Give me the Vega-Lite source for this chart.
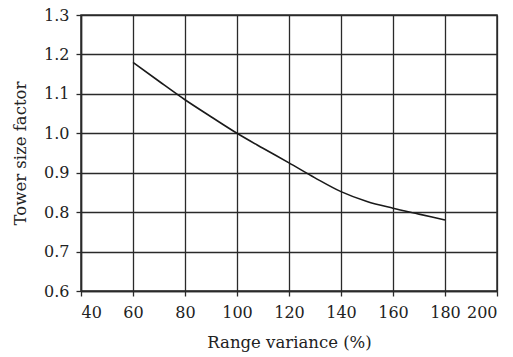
{
  "$schema": "https://vega.github.io/schema/vega-lite/v6.json",
  "width": 416,
  "height": 276,
  "autosize": "none",
  "padding": {"left": 81, "top": 15, "right": 16, "bottom": 66},
  "background": "white",
  "data": {"values": [
    {"x": 60, "y": 1.18},
    {"x": 70, "y": 1.132},
    {"x": 80, "y": 1.085},
    {"x": 90, "y": 1.042},
    {"x": 100, "y": 1.0},
    {"x": 110, "y": 0.962},
    {"x": 120, "y": 0.925},
    {"x": 130, "y": 0.887},
    {"x": 140, "y": 0.852},
    {"x": 150, "y": 0.827},
    {"x": 160, "y": 0.81},
    {"x": 170, "y": 0.795},
    {"x": 180, "y": 0.78}
  ]},
  "mark": {"type": "line", "color": "#1a1a1a", "strokeWidth": 1.6, "interpolate": "monotone"},
  "encoding": {
    "x": {
      "field": "x", "type": "quantitative",
      "scale": {"domain": [40, 200], "nice": false, "zero": false},
      "axis": {"values": [40, 60, 80, 100, 120, 140, 160, 180, 200], "title": "Range variance (%)"}
    },
    "y": {
      "field": "y", "type": "quantitative",
      "scale": {"domain": [0.6, 1.3], "nice": false, "zero": false},
      "axis": {"values": [0.6, 0.7, 0.8, 0.9, 1.0, 1.1, 1.2, 1.3], "format": ".1f", "title": "Tower size  factor"}
    }
  },
  "config": {
    "view": {"stroke": "#333333", "strokeWidth": 1.5},
    "axis": {
      "labelFont": "DejaVu Serif",
      "titleFont": "DejaVu Serif",
      "labelFontSize": 16,
      "titleFontSize": 16.5,
      "titleFontWeight": "normal",
      "labelColor": "#222222",
      "titleColor": "#222222",
      "grid": true,
      "gridColor": "#2a2a2a",
      "gridWidth": 1.3,
      "gridOpacity": 1,
      "domainColor": "#2a2a2a",
      "domainWidth": 1.5,
      "tickColor": "#2a2a2a",
      "tickWidth": 1.3,
      "tickSize": 5,
      "labelPadding": 5
    },
    "axisX": {"titlePadding": 14, "labelPadding": 8},
    "axisY": {"titlePadding": 15, "labelPadding": 7}
  }
}
